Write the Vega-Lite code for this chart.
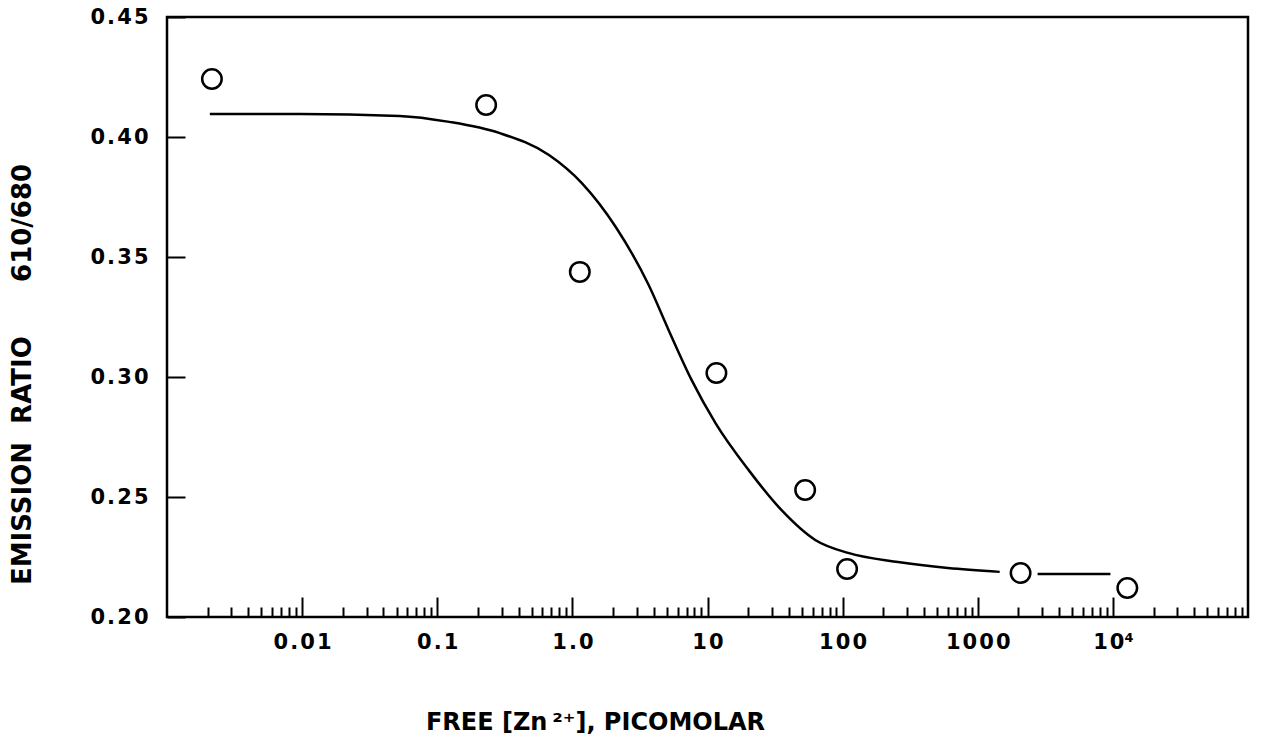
{
  "$schema": "https://vega.github.io/schema/vega-lite/v6.json",
  "width": 1081,
  "height": 600,
  "autosize": {"type": "none"},
  "padding": {"left": 167, "top": 17, "right": 13, "bottom": 130},
  "background": "white",
  "config": {
    "view": {"stroke": "black", "strokeWidth": 2.5},
    "font": "DejaVu Sans"
  },
  "datasets": {
    "curve": [
      {"conc": 0.002075, "ratio": 0.4096, "seg": "a"},
      {"conc": 0.0096, "ratio": 0.4096, "seg": "a"},
      {"conc": 0.0525, "ratio": 0.4088, "seg": "a"},
      {"conc": 0.1228, "ratio": 0.4063, "seg": "a"},
      {"conc": 0.287, "ratio": 0.4017, "seg": "a"},
      {"conc": 0.671, "ratio": 0.3925, "seg": "a"},
      {"conc": 1.175, "ratio": 0.3808, "seg": "a"},
      {"conc": 2.094, "ratio": 0.3625, "seg": "a"},
      {"conc": 3.67, "ratio": 0.3383, "seg": "a"},
      {"conc": 5.15, "ratio": 0.3196, "seg": "a"},
      {"conc": 7.62, "ratio": 0.2988, "seg": "a"},
      {"conc": 11.46, "ratio": 0.2808, "seg": "a"},
      {"conc": 20.1, "ratio": 0.2613, "seg": "a"},
      {"conc": 35.2, "ratio": 0.2446, "seg": "a"},
      {"conc": 62.7, "ratio": 0.2321, "seg": "a"},
      {"conc": 109.9, "ratio": 0.2267, "seg": "a"},
      {"conc": 257, "ratio": 0.2229, "seg": "a"},
      {"conc": 601, "ratio": 0.2204, "seg": "a"},
      {"conc": 1453, "ratio": 0.2188, "seg": "a"},
      {"conc": 2772, "ratio": 0.2179, "seg": "b"},
      {"conc": 9594, "ratio": 0.2179, "seg": "b"}
    ],
    "points": [
      {"conc": 0.00215, "ratio": 0.4242},
      {"conc": 0.23, "ratio": 0.4133},
      {"conc": 1.135, "ratio": 0.3438},
      {"conc": 11.64, "ratio": 0.3017},
      {"conc": 52.8, "ratio": 0.2529},
      {"conc": 107.9, "ratio": 0.22},
      {"conc": 2075, "ratio": 0.2183},
      {"conc": 12790, "ratio": 0.2121}
    ]
  },
  "layer": [
    {
      "data": {"name": "curve"},
      "mark": {"type": "line", "color": "black", "strokeWidth": 2.5, "interpolate": "monotone", "clip": true},
      "encoding": {
        "x": {
          "field": "conc",
          "type": "quantitative",
          "scale": {"type": "log", "domain": [0.001, 95000]},
          "axis": {
            "domain": false,
            "grid": false,
            "values": [0.002,0.003,0.004,0.005,0.006,0.007,0.008,0.009,
                       0.01,0.02,0.03,0.04,0.05,0.06,0.07,0.08,0.09,
                       0.1,0.2,0.3,0.4,0.5,0.6,0.7,0.8,0.9,
                       1,2,3,4,5,6,7,8,9,
                       10,20,30,40,50,60,70,80,90,
                       100,200,300,400,500,600,700,800,900,
                       1000,2000,3000,4000,5000,6000,7000,8000,9000,
                       10000,20000,30000,40000,50000,60000,70000,80000,90000],
            "labelExpr": "datum.value == 0.01 ? '0\u200a.\u200a0\u200a1' : datum.value == 0.1 ? '0\u200a.\u200a1' : datum.value == 1 ? '1\u200a.\u200a0' : datum.value == 10 ? '1\u200a0' : datum.value == 100 ? '1\u200a0\u200a0' : datum.value == 1000 ? '1\u200a0\u200a0\u200a0' : datum.value == 10000 ? '1\u200a0\u2074' : ''",
            "tickSize": {"condition": {"test": "indexof([0.01,0.1,1,10,100,1000,10000], datum.value) >= 0", "value": -20}, "value": -10},
            "tickColor": "black",
            "tickWidth": 2,
            "labelFontSize": 21,
            "labelFontWeight": "bold",
            "labelColor": "black",
            "labelPadding": 34,
            "labelBaseline": "top",
            "labelFlush": false,
            "labelOverlap": false,
            "title": "FREE [Zn\u2009\u00b2\u207a], PICOMOLAR",
            "titleFontSize": 24,
            "titleFontWeight": "bold",
            "titleColor": "black",
            "titleX": 428,
            "titleY": 105,
            "titleAnchor": null,
            "titleAlign": "center",
            "titleBaseline": "middle"
          }
        },
        "y": {
          "field": "ratio",
          "type": "quantitative",
          "scale": {"domain": [0.2, 0.45], "nice": false, "zero": false},
          "axis": {
            "domain": false,
            "grid": false,
            "values": [0.2, 0.25, 0.3, 0.35, 0.4, 0.45],
            "labelExpr": "join(split(format(datum.value, '.2f'), ''), '\u200a')",
            "tickSize": {"condition": {"test": "datum.value > 0", "value": -18}, "value": -18},
            "tickColor": "black",
            "tickWidth": 2,
            "labelFontSize": 21,
            "labelFontWeight": "bold",
            "labelColor": "black",
            "labelPadding": 37,
            "labelFlush": false,
            "labelOverlap": false,
            "title": "EMISSION\u00a0\u00a0RATIO\u00a0\u00a0\u00a0\u00a0\u00a0\u00a0610/680",
            "titleFontSize": 26,
            "titleFontWeight": "bold",
            "titleColor": "black",
            "titleX": -145,
            "titleY": 357,
            "titleAngle": 270,
            "titleAnchor": null,
            "titleAlign": "center",
            "titleBaseline": "middle"
          }
        },
        "detail": {"field": "seg", "type": "nominal"}
      }
    },
    {
      "data": {"name": "points"},
      "mark": {"type": "point", "shape": "circle", "filled": false, "stroke": "black", "strokeWidth": 2.5, "size": 380, "opacity": 1},
      "encoding": {
        "x": {"field": "conc", "type": "quantitative"},
        "y": {"field": "ratio", "type": "quantitative"}
      }
    }
  ]
}
